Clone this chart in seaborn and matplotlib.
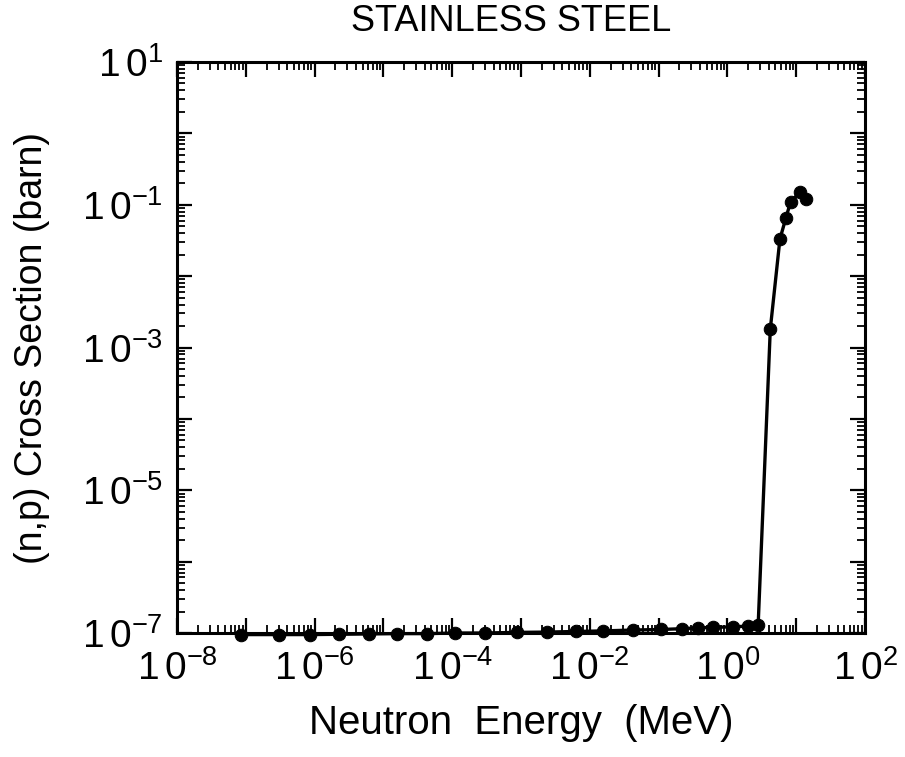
import math
import matplotlib
matplotlib.use("Agg")
import matplotlib.pyplot as plt
from matplotlib.ticker import LogLocator, FuncFormatter, NullFormatter
import seaborn as sns
import pandas as pd

# Data (Neutron Energy in MeV, (n,p) cross section in barn)
energy_mev = [8.5e-8, 3.0e-7, 8.5e-7, 2.3e-6, 6.2e-6, 1.6e-5, 4.3e-5, 1.1e-4,
              3.0e-4, 8.7e-4, 2.4e-3, 6.2e-3, 1.55e-2, 4.3e-2, 0.11, 0.22,
              0.37, 0.62, 1.2, 2.0, 2.8, 4.2, 5.8, 7.1, 8.3, 11.3, 13.8]
cross_section_barn = [0.95e-7, 0.95e-7, 0.95e-7, 0.96e-7, 0.97e-7, 0.98e-7, 0.98e-7, 1.0e-7,
                      1.0e-7, 1.02e-7, 1.03e-7, 1.05e-7, 1.07e-7, 1.1e-7, 1.12e-7, 1.15e-7,
                      1.18e-7, 1.2e-7, 1.22e-7, 1.25e-7, 1.3e-7, 1.8e-3, 0.033, 0.066, 0.11, 0.15, 0.12]

x_label_exponents = [-8, -6, -4, -2, 0, 2]
y_label_exponents = [1, -1, -3, -5, -7]

title = "STAINLESS STEEL"
xlabel = "Neutron  Energy  (MeV)"
ylabel = "(n,p) Cross Section (barn)"

sns.set_style("ticks")
plt.rcParams['font.family'] = ['Liberation Sans', 'DejaVu Sans']
plt.rcParams['mathtext.fontset'] = 'custom'
plt.rcParams['mathtext.rm'] = 'Liberation Sans'
plt.rcParams['mathtext.it'] = 'Liberation Sans:italic'
plt.rcParams['mathtext.bf'] = 'Liberation Sans:bold'
for k in ['text.color', 'axes.labelcolor', 'xtick.color', 'ytick.color', 'axes.edgecolor']:
    plt.rcParams[k] = 'black'

df = pd.DataFrame({"energy": energy_mev, "xs": cross_section_barn})

fig = plt.figure(figsize=(9.05, 7.57), dpi=100)
ax = fig.add_axes([177/905, 1 - 633/757, 688/905, 571/757])

sns.lineplot(data=df, x="energy", y="xs", ax=ax, sort=False, color="black",
             linewidth=2.4, marker="o", markersize=9, markeredgecolor="black",
             markerfacecolor="black", clip_on=False)

ax.set_xscale("log")
ax.set_yscale("log")
ax.set_xlim(1e-8, 1e2)
ax.set_ylim(1e-7, 1e1)

ax.xaxis.set_major_locator(LogLocator(base=10, numticks=30))
ax.yaxis.set_major_locator(LogLocator(base=10, numticks=30))
ax.xaxis.set_minor_locator(LogLocator(base=10, subs=[2, 3, 4, 5, 6, 7, 8, 9], numticks=30))
ax.yaxis.set_minor_locator(LogLocator(base=10, subs=[2, 3, 4, 5, 6, 7, 8, 9], numticks=30))

def make_fmt(allowed):
    def fmt(v, pos):
        e = int(round(math.log10(v)))
        if e not in allowed:
            return ""
        return r"$\mathregular{1\,0^{%d}}$" % e
    return fmt

ax.xaxis.set_major_formatter(FuncFormatter(make_fmt(x_label_exponents)))
ax.yaxis.set_major_formatter(FuncFormatter(make_fmt(y_label_exponents)))
ax.xaxis.set_minor_formatter(NullFormatter())
ax.yaxis.set_minor_formatter(NullFormatter())

ax.tick_params(which="both", direction="in", top=True, right=True, color="black")
ax.tick_params(which="major", length=11, width=1.6, labelsize=28)
ax.tick_params(axis="x", which="major", pad=12)
ax.tick_params(axis="y", which="major", pad=10)
ax.tick_params(which="minor", length=6, width=1.3)

for s in ax.spines.values():
    s.set_linewidth(2.2)
    s.set_color("black")

ax.set_title(title, fontsize=26, pad=22)
ax.title.set_x(0.485)
ax.set_xlabel(xlabel, fontsize=29, labelpad=12)
ax.set_ylabel(ylabel, fontsize=27)
ax.yaxis.set_label_coords(-0.185, 0.5)
ax.grid(False)

fig.savefig("out.png", dpi=100, facecolor="white")
